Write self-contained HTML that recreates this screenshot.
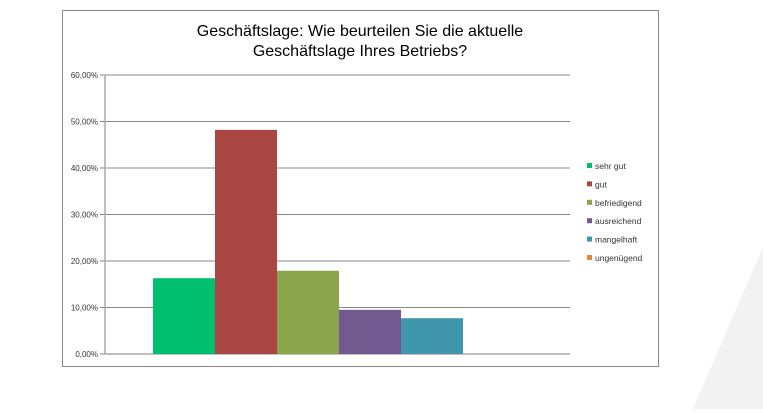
<!DOCTYPE html>
<html><head><meta charset="utf-8"><style>
body{margin:0;width:763px;height:409px;background:#fff;overflow:hidden;font-family:"Liberation Sans",sans-serif}
</style></head><body>
<svg width="763" height="409">
<polygon points="693,409 763,409 763,247" fill="#f2f2f2"/>
<rect x="62.5" y="10.5" width="596" height="356" fill="#fff" stroke="#888"/>
<text x="360" y="36" text-anchor="middle" font-size="16" fill="#000">Geschäftslage: Wie beurteilen Sie die aktuelle</text>
<text x="360" y="56" text-anchor="middle" font-size="16" fill="#000">Geschäftslage Ihres Betriebs?</text>
<g id="grid"></g><g id="bars"></g><g id="legend"></g>
</svg>
<script>
const categories=["sehr gut","gut","befriedigend","ausreichend","mangelhaft","ungenügend"];
const values=[16.3,48.2,17.9,9.5,7.7,0];
const colors=["#00bf6f","#a94543","#8aa54b","#725a90","#4096ad","#e0883d"];
const ticks=[0,10,20,30,40,50,60];
const tickLabels=["0,00%","10,00%","20,00%","30,00%","40,00%","50,00%","60,00%"];
const NS="http://www.w3.org/2000/svg";
const y0=354,yTop=75,yMax=60,x0=105,x1=570,barStart=153,barW=62;
const y=v=>y0-(v/yMax)*(y0-yTop);
const x=i=>barStart+i*barW;
function mk(t,a,p){const e=document.createElementNS(NS,t);for(const k in a)e.setAttribute(k,a[k]);p.appendChild(e);return e;}
const g=document.getElementById('grid');
ticks.forEach((t,i)=>{
 const l=mk('line',{x1:x0-5,x2:x1,y1:y(t),y2:y(t),stroke:i==0?'#aaa':'#888','stroke-width':i==0?1.5:1},g);
 
 
 const tx=mk('text',{x:x0-7,y:y(t)+3,'text-anchor':'end','font-size':8,fill:'#333'},g);
 tx.textContent=tickLabels[i];
 
 
});
const ax=mk('line',{x1:x0,x2:x0,y1:yTop,y2:y0,stroke:'#aaa','stroke-width':1.5},g);


const b=document.getElementById('bars');
values.forEach((v,i)=>{
 const r=mk('rect',{x:x(i),y:y(v),width:barW,height:y0-y(v),fill:colors[i]},b);
 
 
});
const lg=document.getElementById('legend');
categories.forEach((c,i)=>{
 const yy=168+i*18.4;
 const r=mk('rect',{x:587,y:yy-5,width:5,height:5,fill:colors[i]},lg);
 
 
 const t=mk('text',{x:595,y:yy+1,'font-size':8.5,fill:'#333'},lg);
 t.textContent=c;
 
 
});
</script>
</body></html>
